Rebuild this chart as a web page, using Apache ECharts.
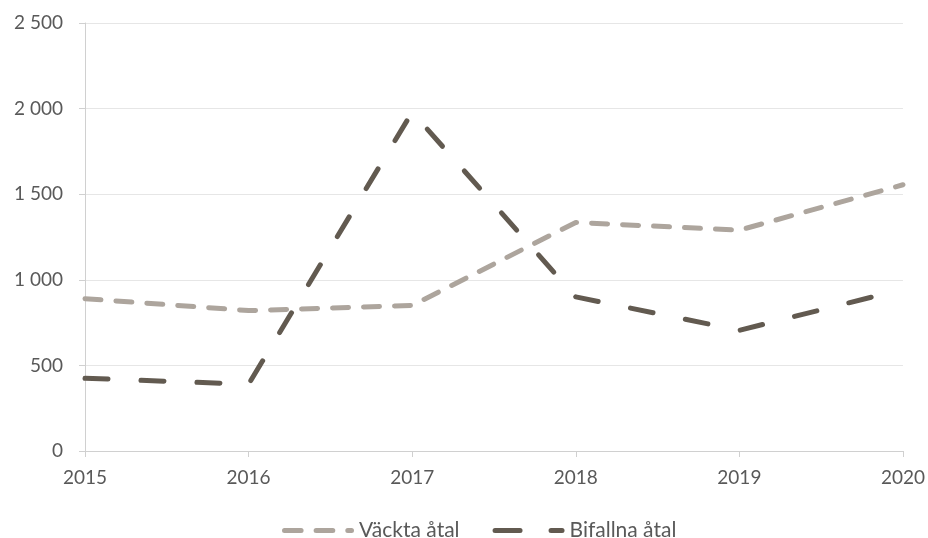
<!DOCTYPE html>
<html><head><meta charset="utf-8">
<script src="https://cdn.jsdelivr.net/npm/echarts@6/dist/echarts.min.js"></script>
<style>html,body{margin:0;padding:0;background:#fff}#c{width:928px;height:538px}</style>
</head><body><div id="c"></div>
<script>
const years = ['2015','2016','2017','2018','2019','2020'];
const vackta = [890, 820, 850, 1335, 1290, 1555];
const bifallna = [425, 390, 1980, 900, 705, 945];
const yTicks = [0, 500, 1000, 1500, 2000, 2500];

function capsule(a, b) {
  const r = 2.5;
  return 'M' + (a + r) + ' 0 L' + (b - r) + ' 0 A2.5 2.5 0 0 1 ' + (b - r) + ' 5 L' + (a + r) +
    ' 5 A2.5 2.5 0 0 1 ' + (a + r) + ' 0 Z ';
}
const lightIcon = 'path://' + capsule(0, 21.6) + capsule(31.6, 53.3) + capsule(63.3, 72);
const darkIcon = 'path://' + capsule(0, 30) + capsule(56, 72);

const chart = echarts.init(document.getElementById('c'));
const font = 'Lato, "Open Sans", sans-serif';
chart.setOption({
  animation: false,
  grid: {left: 85, right: 24, top: 23, bottom: 87},
  xAxis: {
    type: 'category', data: years, boundaryGap: false,
    axisLine: {lineStyle: {color: '#d0d0d0', width: 1}},
    axisTick: {show: true, alignWithLabel: true, length: 6, lineStyle: {color: '#d0d0d0'}},
    axisLabel: {color: '#595959', fontSize: 19, fontFamily: font, margin: 17,
      showMinLabel: true, showMaxLabel: true},
    splitLine: {show: false}
  },
  yAxis: {
    type: 'value', min: yTicks[0], max: yTicks[yTicks.length-1], interval: 500,
    axisLine: {show: true, lineStyle: {color: '#d0d0d0'}},
    axisTick: {show: true, length: 6, inside: false, lineStyle: {color: '#d0d0d0'}},
    axisLabel: {color: '#595959', fontSize: 19, fontFamily: font, margin: 22,
      formatter: v => String(v).replace(/\B(?=(\d{3})+(?!\d))/g, ' ')},
    splitLine: {lineStyle: {color: '#e6e6e6', width: 1}}
  },
  legend: {
    top: 515, left: 277, itemGap: 33, itemWidth: 72, itemHeight: 5,
    textStyle: {color: '#595959', fontSize: 21, fontFamily: font},
    data: [
      {name: 'Väckta åtal', icon: lightIcon, itemStyle: {color: '#ada59d'}},
      {name: 'Bifallna åtal', icon: darkIcon, itemStyle: {color: '#625a50'}}
    ]
  },
  series: [
    {name: 'Väckta åtal', type: 'line', data: vackta, showSymbol: false, symbol: 'none',
     itemStyle: {color: '#ada59d'},
     lineStyle: {color: '#ada59d', width: 5, type: [16, 15], cap: 'round', join: 'round'}},
    {name: 'Bifallna åtal', type: 'line', data: bifallna, showSymbol: false, symbol: 'none',
     itemStyle: {color: '#625a50'},
     lineStyle: {color: '#625a50', width: 5, type: [23, 33], cap: 'round', join: 'round'}}
  ]
});
</script></body></html>
